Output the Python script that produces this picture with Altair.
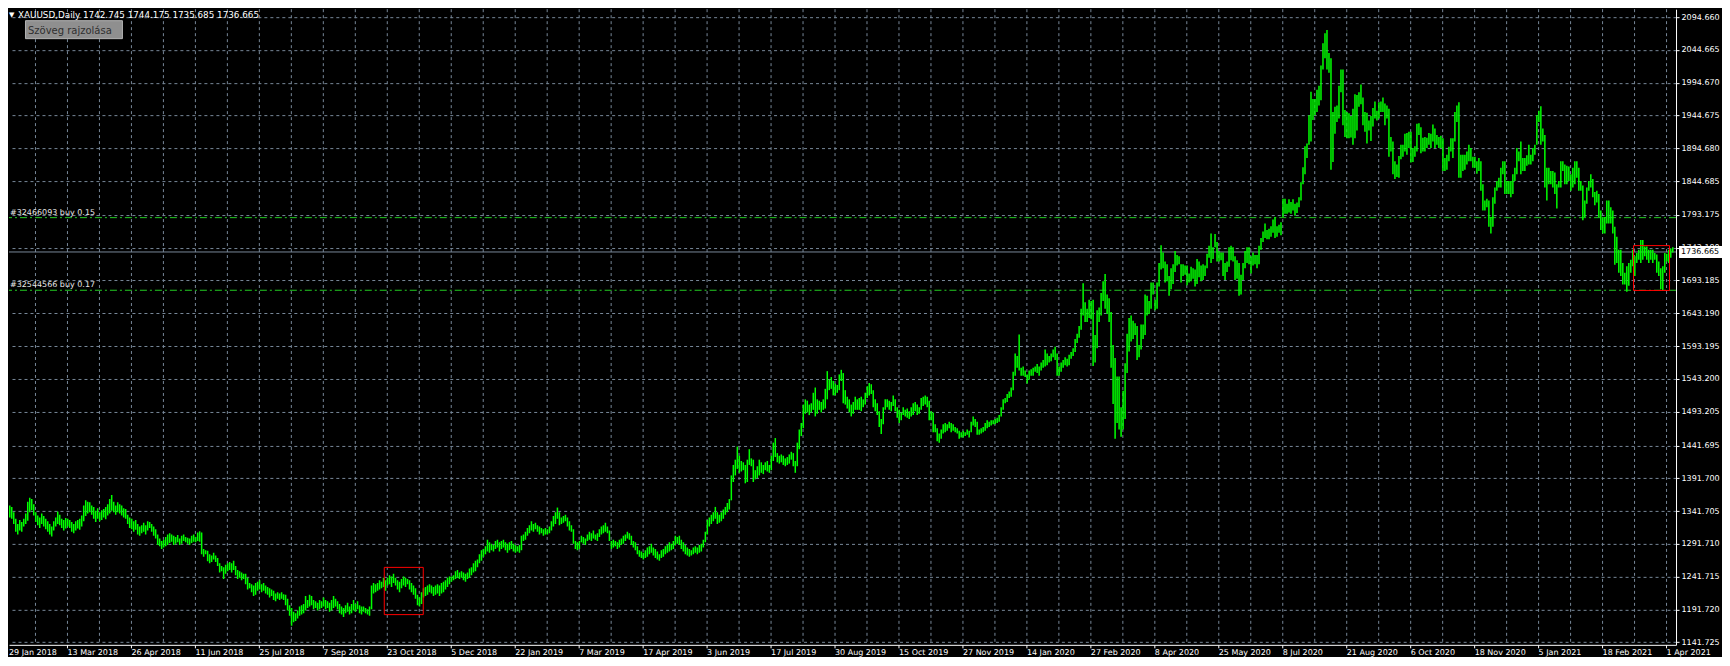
import altair as alt
import pandas as pd

# ---------------- data (daily XAUUSD bars) ----------------
lows = [
    1336,1334,1338,1332,1330,1322,1310,1306,1312,1310,1318,1322,1327,1340,1343,1335,
    1325,1320,1316,1322,1318,1314,1310,1306,1303,1312,1318,1322,1320,1316,1312,1315,
    1318,1316,1310,1308,1312,1315,1313,1318,1326,1334,1338,1340,1336,1330,1325,1330,
    1326,1328,1332,1329,1335,1338,1342,1340,1336,1340,1338,1335,1332,1330,1322,1316,
    1314,1310,1313,1306,1304,1308,1310,1306,1312,1316,1310,1304,1300,1290,1288,1284,
    1286,1288,1290,1293,1295,1290,1292,1294,1290,1292,1296,1294,1292,1290,1293,1295,
    1294,1296,1295,1276,1272,1276,1265,1262,1264,1268,1264,1258,1248,1250,1238,1246,
    1250,1252,1248,1252,1244,1238,1240,1236,1238,1230,1222,1224,1218,1212,1214,1220,
    1222,1218,1220,1216,1214,1210,1212,1206,1204,1208,1206,1208,1206,1198,1190,1182,
    1167,1172,1174,1178,1182,1184,1186,1190,1194,1196,1198,1192,1194,1190,1192,1194,
    1196,1192,1194,1188,1190,1194,1196,1192,1186,1184,1180,1186,1188,1184,1186,1190,
    1188,1192,1186,1184,1188,1186,1184,1182,1192,1216,1218,1220,1222,1224,1226,1220,
    1228,1230,1226,1232,1228,1222,1218,1224,1228,1226,1230,1222,1218,1214,1208,1198,
    1196,1200,1210,1212,1214,1218,1216,1212,1214,1216,1212,1216,1218,1222,1226,1230,
    1234,1236,1238,1240,1238,1240,1236,1234,1238,1240,1244,1248,1250,1256,1262,1266,
    1272,1276,1280,1278,1282,1280,1284,1286,1280,1284,1286,1282,1278,1282,1284,1280,
    1278,1280,1278,1282,1296,1298,1304,1308,1312,1310,1314,1310,1306,1308,1304,1306,
    1306,1308,1312,1318,1322,1330,1320,1322,1324,1326,1318,1312,1310,1292,1284,1282,
    1284,1294,1292,1290,1296,1298,1296,1300,1298,1296,1302,1306,1308,1310,1308,1296,
    1284,1286,1288,1284,1286,1290,1292,1296,1300,1298,1290,1286,1282,1276,1272,1270,
    1268,1270,1272,1276,1278,1274,1270,1268,1266,1270,1272,1276,1278,1280,1282,1284,
    1290,1292,1290,1284,1280,1276,1274,1272,1274,1276,1278,1276,1278,1280,1286,1294,
    1306,1318,1322,1326,1330,1322,1324,1326,1330,1336,1340,1344,1358,1386,1396,1406,
    1400,1402,1404,1384,1386,1412,1410,1386,1390,1392,1396,1400,1398,1404,1402,1400,
    1404,1418,1424,1416,1414,1416,1412,1410,1412,1414,1420,1410,1400,1410,1436,1456,
    1468,1490,1492,1488,1492,1496,1486,1490,1496,1492,1496,1498,1512,1526,1528,1518,
    1518,1522,1526,1540,1506,1504,1498,1492,1486,1490,1496,1496,1496,1494,1500,1504,
    1514,1518,1520,1500,1494,1488,1470,1459,1474,1496,1500,1496,1494,1502,1494,1484,
    1476,1480,1488,1486,1484,1482,1486,1488,1494,1488,1490,1496,1502,1504,1500,1480,
    1480,1462,1462,1448,1446,1452,1460,1462,1464,1468,1462,1464,1462,1460,1452,1454,
    1454,1456,1458,1454,1462,1472,1470,1458,1458,1460,1462,1464,1468,1470,1472,1474,
    1474,1476,1478,1486,1496,1506,1508,1514,1516,1526,1548,1560,1556,1548,1548,1546,
    1536,1542,1548,1548,1554,1552,1548,1556,1560,1562,1564,1568,1570,1576,1572,1548,
    1548,1554,1560,1564,1562,1564,1574,1578,1584,1598,1606,1618,1640,1630,1630,1636,
    1634,1563,1568,1590,1630,1640,1662,1650,1642,1630,1560,1505,1452,1476,1466,1455,
    1466,1482,1552,1585,1600,1604,1610,1572,1576,1588,1604,1610,1640,1642,1650,1672,
    1648,1650,1684,1710,1712,1690,1692,1670,1680,1688,1706,1716,1718,1690,1700,1702,
    1686,1690,1692,1696,1684,1688,1698,1692,1694,1700,1712,1728,1720,1726,1744,1722,
    1722,1724,1700,1694,1706,1714,1724,1722,1694,1696,1670,1672,1694,1712,1720,1718,
    1704,1716,1718,1712,1718,1740,1752,1758,1756,1756,1760,1766,1758,1760,1766,1762,
    1790,1795,1795,1797,1795,1800,1792,1796,1805,1815,1840,1855,1880,1900,1905,1938,
    1945,1950,1960,1968,2015,2032,2015,2010,1862,1874,1917,1935,1940,1980,1930,1912,
    1910,1910,1911,1900,1910,1922,1958,1962,1930,1920,1902,1922,1906,1928,1940,1937,
    1940,1950,1950,1930,1940,1882,1890,1855,1848,1851,1850,1878,1882,1890,1885,1895,
    1873,1874,1882,1890,1915,1887,1890,1890,1895,1900,1895,1905,1895,1900,1895,1895,
    1860,1860,1862,1875,1890,1880,1905,1935,1850,1850,1860,1862,1870,1875,1875,1865,
    1865,1856,1860,1830,1800,1800,1805,1775,1765,1775,1810,1830,1835,1835,1855,1825,
    1825,1825,1820,1825,1845,1855,1875,1855,1860,1860,1868,1870,1870,1875,1885,1900,
    1935,1900,1905,1835,1815,1840,1840,1835,1825,1803,1835,1835,1860,1840,1840,1845,
    1830,1835,1840,1850,1830,1830,1785,1790,1810,1830,1835,1820,1808,1812,1790,1770,
    1765,1765,1780,1780,1780,1765,1717,1720,1705,1700,1687,1687,1676,1685,1705,1715,
    1700,1720,1725,1720,1725,1730,1725,1720,1725,1720,1725,1705,1700,1680,1677,1705,
    1722,1720,1728,1736,
]
highs = [
    1352,1347,1354,1350,1348,1340,1330,1322,1328,1325,1330,1338,1356,1362,1360,1352,
    1340,1335,1332,1338,1334,1330,1326,1322,1318,1326,1332,1341,1336,1330,1328,1331,
    1330,1328,1325,1322,1326,1328,1330,1335,1350,1358,1356,1355,1350,1348,1342,1346,
    1340,1343,1345,1348,1352,1360,1366,1356,1350,1355,1352,1350,1346,1345,1336,1332,
    1330,1326,1328,1322,1318,1320,1324,1320,1326,1325,1322,1318,1314,1306,1300,1296,
    1298,1302,1306,1308,1306,1304,1302,1305,1300,1304,1306,1302,1301,1300,1304,1306,
    1302,1309,1311,1309,1284,1282,1281,1276,1274,1278,1274,1270,1262,1258,1256,1260,
    1262,1264,1262,1266,1258,1252,1250,1248,1246,1246,1240,1232,1230,1228,1232,1234,
    1236,1230,1232,1228,1226,1224,1222,1220,1216,1218,1216,1218,1215,1214,1208,1198,
    1194,1188,1186,1190,1196,1198,1200,1212,1206,1214,1212,1206,1204,1202,1206,1204,
    1210,1206,1204,1202,1206,1212,1208,1204,1200,1196,1194,1198,1202,1196,1200,1206,
    1200,1204,1198,1196,1196,1194,1192,1196,1228,1232,1230,1232,1236,1234,1240,1236,
    1240,1244,1242,1246,1240,1236,1234,1238,1242,1240,1238,1236,1232,1228,1224,1214,
    1210,1218,1224,1226,1228,1230,1228,1226,1228,1230,1228,1232,1234,1236,1240,1242,
    1242,1244,1250,1252,1248,1250,1248,1246,1248,1254,1256,1262,1266,1268,1276,1282,
    1284,1288,1298,1294,1292,1290,1296,1298,1294,1296,1298,1294,1292,1294,1296,1292,
    1290,1288,1290,1304,1306,1310,1316,1320,1326,1322,1324,1320,1318,1316,1314,1316,
    1314,1318,1326,1334,1340,1347,1340,1332,1334,1336,1332,1326,1320,1314,1296,1294,
    1296,1304,1302,1300,1306,1310,1308,1312,1306,1308,1314,1318,1320,1324,1318,1312,
    1296,1298,1296,1294,1298,1300,1304,1306,1310,1308,1304,1296,1294,1288,1282,1280,
    1278,1282,1286,1288,1292,1286,1284,1280,1276,1282,1284,1288,1290,1294,1292,1296,
    1304,1302,1304,1298,1294,1290,1286,1284,1282,1286,1288,1286,1290,1292,1298,1310,
    1328,1332,1336,1340,1348,1340,1336,1340,1344,1348,1354,1360,1396,1412,1420,1440,
    1426,1418,1416,1412,1420,1436,1422,1420,1404,1410,1420,1416,1412,1416,1418,1412,
    1426,1446,1453,1430,1426,1428,1426,1422,1424,1428,1432,1430,1418,1446,1466,1476,
    1504,1512,1510,1504,1506,1522,1530,1512,1510,1508,1512,1528,1555,1542,1546,1540,
    1536,1534,1550,1557,1552,1526,1516,1512,1504,1508,1516,1512,1514,1516,1512,1522,
    1532,1537,1535,1526,1512,1506,1494,1482,1500,1512,1512,1510,1508,1518,1512,1500,
    1496,1492,1500,1496,1498,1494,1500,1506,1508,1504,1500,1514,1516,1518,1516,1510,
    1494,1492,1474,1468,1460,1466,1474,1476,1474,1478,1476,1474,1470,1468,1464,1462,
    1464,1462,1466,1464,1478,1486,1482,1478,1466,1468,1470,1476,1480,1478,1480,1480,
    1482,1484,1488,1500,1512,1514,1520,1524,1530,1554,1582,1578,1611,1560,1562,1556,
    1550,1556,1558,1560,1562,1566,1562,1568,1572,1588,1582,1578,1582,1588,1592,1582,
    1562,1568,1572,1576,1574,1580,1584,1590,1604,1612,1624,1650,1689,1660,1650,1664,
    1662,1664,1610,1648,1652,1674,1692,1703,1672,1666,1645,1595,1575,1547,1547,1500,
    1525,1567,1612,1636,1640,1632,1628,1624,1595,1626,1626,1672,1670,1662,1690,1690,
    1664,1690,1720,1747,1736,1722,1718,1700,1712,1718,1738,1732,1730,1718,1718,1716,
    1716,1704,1714,1712,1710,1726,1722,1716,1718,1716,1734,1746,1765,1744,1764,1752,
    1738,1736,1736,1720,1722,1744,1746,1744,1730,1724,1720,1702,1720,1738,1744,1744,
    1730,1736,1732,1732,1746,1758,1768,1780,1770,1772,1776,1786,1790,1776,1778,1782,
    1818,1818,1810,1817,1813,1817,1810,1812,1820,1843,1866,1898,1902,1945,1981,1970,
    1970,1984,1990,2021,2055,2070,2075,2040,2032,1950,1958,1960,1990,2015,2015,1953,
    1950,1948,1944,1955,1977,1976,1980,1992,1972,1950,1949,1937,1944,1956,1966,1952,
    1965,1966,1972,1963,1960,1955,1912,1905,1875,1870,1883,1900,1900,1917,1918,1920,
    1920,1895,1898,1932,1933,1927,1911,1912,1911,1918,1917,1931,1925,1915,1912,1914,
    1910,1880,1885,1897,1910,1910,1950,1960,1965,1885,1885,1885,1890,1900,1895,1882,
    1882,1875,1880,1875,1840,1815,1818,1815,1790,1820,1835,1845,1850,1865,1875,1875,
    1845,1845,1845,1855,1865,1895,1890,1905,1880,1880,1884,1900,1885,1895,1900,1945,
    1952,1959,1925,1915,1865,1865,1860,1860,1858,1840,1845,1875,1875,1870,1868,1867,
    1855,1865,1875,1875,1865,1845,1838,1815,1835,1845,1855,1848,1828,1830,1825,1800,
    1790,1790,1815,1815,1805,1800,1775,1760,1740,1740,1720,1705,1715,1720,1725,1740,
    1730,1735,1740,1755,1755,1745,1745,1740,1740,1740,1735,1733,1722,1712,1715,1735,
    1734,1740,1742,1744,
]

date_labels = ["29 Jan 2018", "13 Mar 2018", "26 Apr 2018", "11 Jun 2018", "25 Jul 2018",
               "7 Sep 2018", "23 Oct 2018", "5 Dec 2018", "22 Jan 2019", "7 Mar 2019",
               "17 Apr 2019", "3 Jun 2019", "17 Jul 2019", "30 Aug 2019", "15 Oct 2019",
               "27 Nov 2019", "14 Jan 2020", "27 Feb 2020", "8 Apr 2020", "25 May 2020",
               "8 Jul 2020", "21 Aug 2020", "6 Oct 2020", "18 Nov 2020", "5 Jan 2021",
               "18 Feb 2021", "1 Apr 2021"]
date_label_bars = [0, 32, 64, 96, 128, 160, 192, 224, 256, 288, 320, 352, 384, 416,
                   448, 480, 512, 544, 576, 608, 640, 672, 704, 736, 768, 800, 832]

price_labels = [1141.725, 1191.720, 1241.715, 1291.710, 1341.705, 1391.700, 1441.695,
                1493.205, 1543.200, 1593.195, 1643.190, 1693.185, 1743.180, 1793.175,
                1844.685, 1894.680, 1944.675, 1994.670, 2044.665, 2094.660]

order_labels = ["#32466093 buy 0.15", "#32544566 buy 0.17"]
order_prices = [1789.0, 1678.3]

bid_price = 1736.665
header_symbol = "XAUUSD,Daily"
header_ohlc = [1742.745, 1744.175, 1735.685, 1736.665]
button_text = "Szöveg rajzolása"

rect_bar_start = [190.75, 815.75]
rect_bar_end = [210.25, 833.75]
rect_price_low = [1183.8, 1678.0]
rect_price_high = [1255.8, 1746.4]

# ---------------- layout ----------------
W, H = 1668, 636
X0, X1 = 3.0, 837.0
Y0, Y1 = 1137.75, 2106.81
FONT = "DejaVu Sans"
GRID = "#778899"
BAR = "#00ff00"

bars = pd.DataFrame({"bar": list(range(len(lows))), "low": lows, "high": highs})
xs = alt.Scale(domain=[X0, X1], nice=False, zero=False)
ys = alt.Scale(domain=[Y0, Y1], nice=False, zero=False)

label_expr = "[" + ",".join("'%s'" % d for d in date_labels) + "][round(datum.value / 32)]"

x_axis = alt.Axis(values=date_label_bars[1:], labelExpr=label_expr, title=None, grid=False,
                  domainColor="white", tickColor="white", tickSize=3, labelColor="white",
                  labelAlign="left", labelBaseline="top", labelPadding=1, labelFont=FONT,
                  labelFontSize=8, labelOverlap=False, labelFlush=False, labelBound=False)
y_axis = alt.Axis(orient="right", values=price_labels, format=".3f", title=None,
                  grid=True, gridColor=GRID, gridDash=[3, 3], gridOpacity=1, gridWidth=1,
                  domainColor="white", tickColor="white", tickSize=3, labelColor="white",
                  labelPadding=2, labelFont=FONT, labelFontSize=8, labelOverlap=False,
                  labelFlush=False, labelBound=False)

# each daily bar: a thin high-low stick
bar_layer = alt.Chart(bars).mark_rect(color=BAR, x2Offset=1.5, clip=True).encode(
    x=alt.X("bar:Q", scale=xs, axis=x_axis), x2="bar:Q",
    y=alt.Y("low:Q", scale=ys, axis=y_axis), y2="high:Q",
)

vgrid = pd.DataFrame({"bar": [16 * k + 0.25 for k in range(1, 53)]})
vgrid_layer = alt.Chart(vgrid).mark_rule(color=GRID, strokeDash=[3, 3], strokeWidth=1).encode(
    x=alt.X("bar:Q", scale=xs, axis=x_axis)
)

bid_df = pd.DataFrame({"p": [bid_price]})
bid_line = alt.Chart(bid_df).mark_rule(color=GRID, strokeWidth=1).encode(
    y=alt.Y("p:Q", scale=ys, axis=y_axis)
)

orders = pd.DataFrame({"p": order_prices, "label": order_labels})
order_lines = alt.Chart(orders).mark_rule(color="#22cc22", strokeWidth=1,
                                          strokeDash=[7, 3, 2, 3]).encode(
    y=alt.Y("p:Q", scale=ys, axis=y_axis)
)
order_text = alt.Chart(orders).mark_text(align="left", baseline="alphabetic", dy=-3,
                                         font=FONT, fontSize=8, color="#e6e6e6").encode(
    x=alt.value(1), y=alt.Y("p:Q", scale=ys, axis=y_axis), text="label:N"
)

rects = pd.DataFrame({"b0": rect_bar_start, "b1": rect_bar_end,
                      "p0": rect_price_low, "p1": rect_price_high})
rect_layer = alt.Chart(rects).mark_rect(fillOpacity=0, stroke="#ff0000", strokeWidth=1).encode(
    x=alt.X("b0:Q", scale=xs, axis=x_axis), x2="b1:Q",
    y=alt.Y("p0:Q", scale=ys, axis=y_axis), y2="p1:Q",
)

bid_box = alt.Chart(bid_df).mark_rect(fill="white", yOffset=-6, y2Offset=6).encode(
    x=alt.value(W + 3), x2=alt.value(W + 46),
    y=alt.Y("p:Q", scale=ys, axis=y_axis), y2="p:Q",
)
bid_text = alt.Chart(pd.DataFrame({"p": [bid_price], "t": ["%.3f" % bid_price]})).mark_text(
    align="left", baseline="middle", font=FONT, fontSize=8, color="black").encode(
    x=alt.value(W + 5), y=alt.Y("p:Q", scale=ys, axis=y_axis), text="t:N"
)

first_label = alt.Chart(pd.DataFrame({"t": [date_labels[0]]})).mark_text(
    align="left", baseline="top", font=FONT, fontSize=8, color="white").encode(
    x=alt.value(0), y=alt.value(H + 4), text="t:N"
)

header_df = pd.DataFrame({"t": [header_symbol + "  " + " ".join("%.3f" % v for v in header_ohlc)]})
header = alt.Chart(header_df).mark_text(align="left", baseline="alphabetic", font=FONT,
                                        fontSize=8.8, color="white").encode(
    x=alt.value(9), y=alt.value(9), text="t:N"
)
tri = alt.Chart(pd.DataFrame({"t": ["▼"]})).mark_text(align="left", baseline="alphabetic",
                                                     font=FONT, fontSize=7, color="white").encode(
    x=alt.value(0), y=alt.value(8), text="t:N"
)
button_box = alt.Chart(pd.DataFrame({"t": [button_text]})).mark_rect(
    fill="#8f8f8f", stroke="#b4b4b4", strokeWidth=1).encode(
    x=alt.value(16.5), x2=alt.value(113.5), y=alt.value(11.5), y2=alt.value(29.5)
)
button_label = alt.Chart(pd.DataFrame({"t": [button_text]})).mark_text(
    align="left", baseline="alphabetic", font=FONT, fontSize=10, color="#303030").encode(
    x=alt.value(19), y=alt.value(25), text="t:N"
)

chart = alt.layer(
    vgrid_layer, bid_line, order_lines, bar_layer, rect_layer, order_text,
    bid_box, bid_text, first_label, header, tri, button_box, button_label,
).properties(
    width=W, height=H, background="black", padding=0
).configure_view(stroke=None)

chart.save("out.html", embed_options={"renderer": "svg", "actions": False})
